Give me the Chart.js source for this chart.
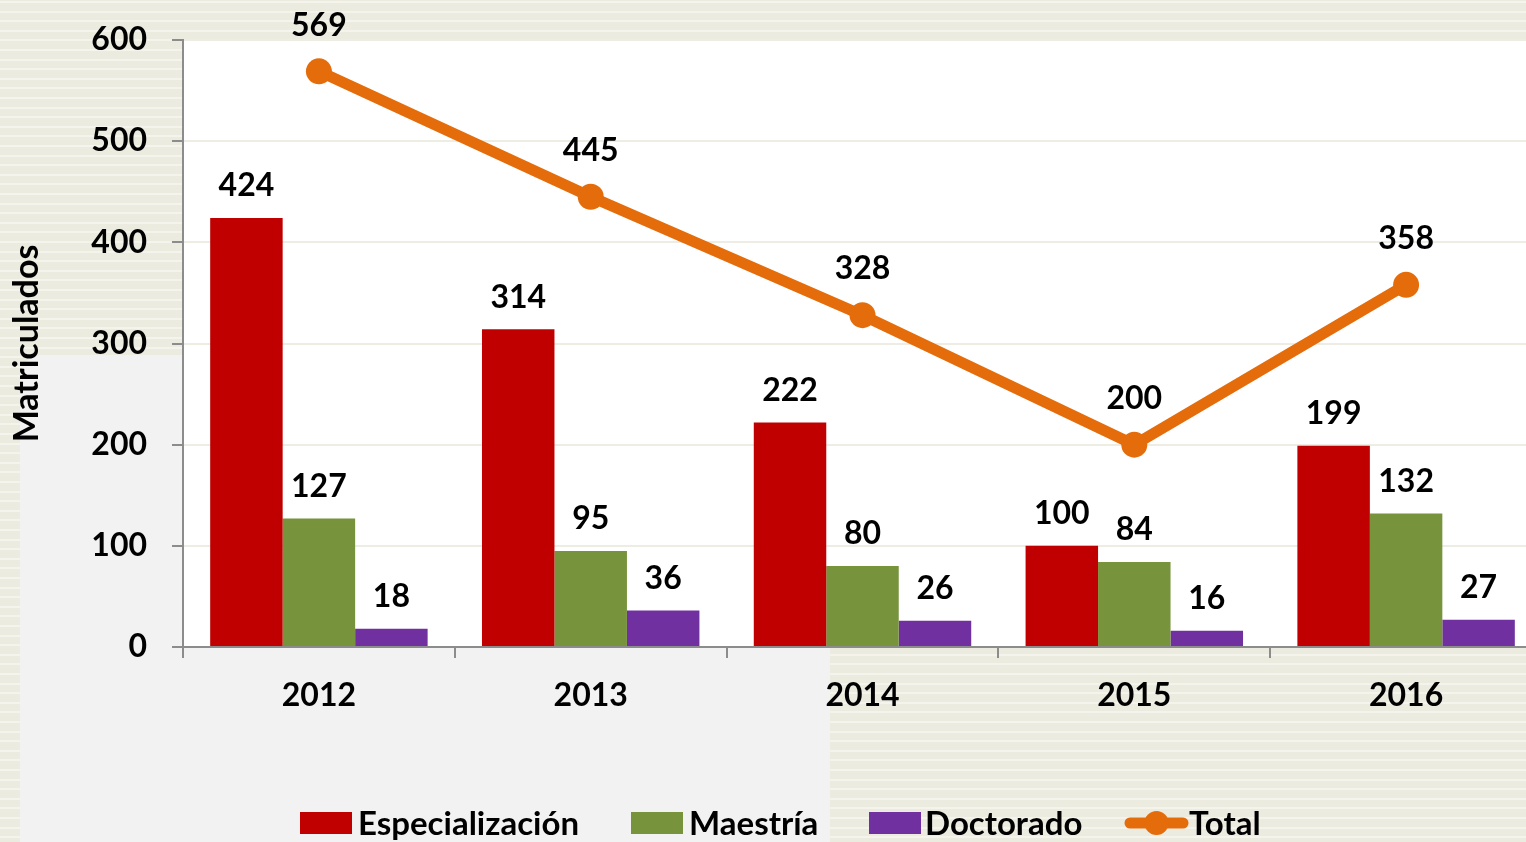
<!DOCTYPE html>
<html>
<head>
<meta charset="utf-8">
<title>Matriculados</title>
<script src="https://cdn.jsdelivr.net/npm/chart.js"></script>
<style>
  html, body { margin: 0; padding: 0; overflow: hidden; background: #eceadf; }
  #chart { display: block; width: 1555px; height: 842px; }
</style>
</head>
<body>
<canvas id="chart" width="1555" height="842"></canvas>
<script>
// data
const years = ['2012', '2013', '2014', '2015', '2016'];
const especializacion = [424, 314, 222, 100, 199];
const maestria = [127, 95, 80, 84, 132];
const doctorado = [18, 36, 26, 16, 27];
const total = [569, 445, 328, 200, 358];
const yTicks = [0, 100, 200, 300, 400, 500, 600];

const FONT = 'Lato, "Open Sans", sans-serif';
const WEIGHT = 'bold';

// striped beige page, grey panel, white plot area
const backdrop = {
  id: 'backdrop',
  beforeDraw(chart) {
    const { ctx, width, height, chartArea } = chart;
    ctx.save();
    ctx.fillStyle = '#ecebe0';
    ctx.fillRect(0, 0, width, height);
    ctx.fillStyle = '#f4f3ec';
    for (let y = 1; y < height; y += 9.6) ctx.fillRect(0, Math.round(y), width, 2);

    ctx.fillStyle = '#f2f2f2';
    ctx.beginPath();
    ctx.roundRect(20, 355, 810, 520, [22, 0, 0, 0]);
    ctx.fill();

    ctx.fillStyle = '#ffffff';
    ctx.fillRect(chartArea.left, chartArea.top, width - chartArea.left, chartArea.bottom - chartArea.top);
    ctx.restore();
  }
};

// value labels above bars and points
const valueLabels = {
  id: 'valueLabels',
  afterDatasetsDraw(chart) {
    const { ctx } = chart;
    ctx.save();
    ctx.font = WEIGHT + ' 32px ' + FONT;
    ctx.fillStyle = '#000';
    ctx.textAlign = 'center';
    ctx.textBaseline = 'middle';
    chart.data.datasets.forEach((ds, di) => {
      const meta = chart.getDatasetMeta(di);
      const lift = ds.type === 'line' ? 46 : 32;
      meta.data.forEach((el, i) => {
        ctx.fillText(String(ds.data[i]), el.x, el.y - lift);
      });
    });
    ctx.restore();
  }
};

// legend along the bottom
const bottomLegend = {
  id: 'bottomLegend',
  afterDraw(chart) {
    const { ctx } = chart;
    const y = 823;
    const items = [
      { box: 300, text: 358, w: 229 },
      { box: 631, text: 689, w: 136 },
      { box: 869, text: 925, w: 163 },
      { box: 1124, text: 1189, w: 78 }
    ];
    ctx.save();
    ctx.font = WEIGHT + ' 33px ' + FONT;
    ctx.textBaseline = 'middle';
    ctx.textAlign = 'left';
    chart.data.datasets.forEach((ds, i) => {
      const it = items[i];
      if (ds.type === 'line') {
        ctx.strokeStyle = ds.borderColor;
        ctx.lineWidth = 11;
        ctx.lineCap = 'round';
        ctx.beginPath();
        ctx.moveTo(it.box + 6, y);
        ctx.lineTo(it.text - 6, y);
        ctx.stroke();
        ctx.fillStyle = ds.borderColor;
        ctx.beginPath();
        ctx.arc((it.box + it.text) / 2, y, 12, 0, Math.PI * 2);
        ctx.fill();
      } else {
        ctx.fillStyle = ds.backgroundColor;
        ctx.fillRect(it.box, y - 11, 52, 22);
      }
      ctx.fillStyle = '#000';
      ctx.fillText(ds.label, it.text, y + 1, it.w);
    });
    ctx.restore();
  }
};

new Chart(document.getElementById('chart'), {
  type: 'bar',
  data: {
    labels: years,
    datasets: [
      { label: 'Especialización', data: especializacion, backgroundColor: '#c00000', order: 1 },
      { label: 'Maestría', data: maestria, backgroundColor: '#77933c', order: 1 },
      { label: 'Doctorado', data: doctorado, backgroundColor: '#7030a0', order: 1 },
      {
        type: 'line', label: 'Total', data: total, order: 0,
        borderColor: '#e46c0a', backgroundColor: '#e46c0a', borderWidth: 11,
        pointRadius: 13, pointHoverRadius: 13, pointBorderWidth: 0,
        pointBackgroundColor: '#e46c0a', tension: 0
      }
    ]
  },
  options: {
    responsive: false,
    animation: false,
    datasets: { bar: { categoryPercentage: 0.8, barPercentage: 1.0 } },
    layout: { padding: { top: 40, right: 0, bottom: 0, left: 0 } },
    plugins: { legend: { display: false }, tooltip: { enabled: false } },
    scales: {
      x: {
        afterFit(scale) {
          scale.height = 195;
          scale.paddingLeft = 0; scale.paddingRight = 0;
        },
        grid: { drawOnChartArea: false, color: '#8c8c8c', lineWidth: 2, tickLength: 11 },
        border: { color: '#8c8c8c', width: 2 },
        ticks: { color: '#000', padding: 18, font: { family: FONT, size: 32, weight: WEIGHT } }
      },
      y: {
        min: 0, max: 600,
        afterFit(scale) {
          scale.width = 183;
          scale.paddingTop = 0; scale.paddingBottom = 0;
        },
        afterBuildTicks(scale) { scale.ticks = yTicks.map(v => ({ value: v })); },
        grid: { color: '#eeede4', lineWidth: 2, tickColor: '#8c8c8c', tickLength: 11, tickWidth: 2 },
        border: { color: '#8c8c8c', width: 2 },
        ticks: { color: '#000', padding: 25, font: { family: FONT, size: 32, weight: WEIGHT } },
        title: {
          display: true, text: 'Matriculados', color: '#000',
          padding: { top: 7, bottom: 0 },
          font: { family: FONT, size: 34, weight: WEIGHT }
        }
      }
    }
  },
  plugins: [backdrop, valueLabels, bottomLegend]
});
</script>
</body>
</html>
